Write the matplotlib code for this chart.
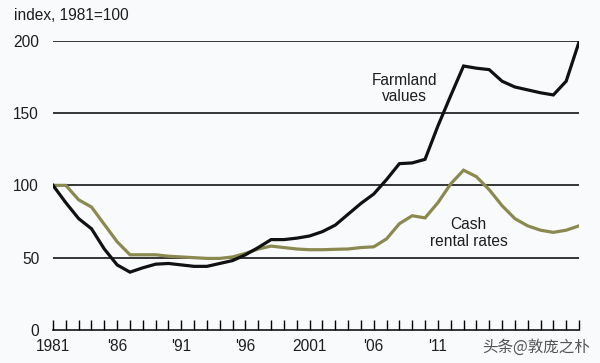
import matplotlib
matplotlib.use("Agg")
import matplotlib.pyplot as plt
import numpy as np

years = list(range(1981, 2023))
farmland = [100, 88, 77, 70, 56, 45, 40, 43, 45.5, 46,
            45, 44, 44, 46, 48, 52, 57, 62.5, 62.5, 63.5,
            65, 68, 72.5, 80, 87.5, 94, 104, 115, 115.5, 118,
            141, 162, 182.5, 181, 180, 172, 168, 166, 164, 162.5,
            172, 199]
cash = [100, 100, 90, 85, 73, 61, 52, 52, 52, 51,
        50.5, 50, 49.5, 49.5, 50.5, 53, 56, 58, 57, 56,
        55.5, 55.5, 55.8, 56, 57, 57.5, 63, 73.5, 79, 77.5,
        88, 101, 110.5, 106, 97, 86, 77, 72, 69, 67.5,
        69, 72]
label_years = [1981, 1986, 1991, 1996, 2001, 2006, 2011]
label_texts = ["1981", "'86", "'91", "'96", "2001", "'06", "'11"]
y_ticks = [0, 50, 100, 150, 200]

plt.rcParams['font.family'] = ['Liberation Sans', 'DejaVu Sans']
FS = 11.2
TC = "#1e1e1e"

bg = "#f9fafc"
fig = plt.figure(figsize=(6.0, 3.63), dpi=100, facecolor=bg)
ax = fig.add_axes([53/600, 33/363, (579-53)/600, (330-40.7)/363], facecolor=bg)

for v in [50, 100, 150, 200]:
    ax.axhline(v, color="black", lw=1.1, zorder=1)

ax.plot(years, cash, color="#8a8a50", lw=2.3, solid_joinstyle="miter", zorder=3)
ax.plot(years, farmland, color="#111111", lw=2.3, solid_joinstyle="miter", zorder=4)

ax.set_xlim(1981, 2022)
ax.set_ylim(0, 200)
for s in ["top", "right", "left"]:
    ax.spines[s].set_visible(False)
ax.spines["bottom"].set_linewidth(1.1)
ax.spines["bottom"].set_color("black")

ax.set_xticks(years)
ax.set_xticklabels([])
ax.tick_params(axis="x", direction="in", length=7, width=1.0, color="black")
for yr, t in zip(label_years, label_texts):
    ax.text(yr, -6.5, t, ha="center", va="top", fontsize=FS, color=TC)

ax.set_yticks(y_ticks)
ax.set_yticklabels([str(v) for v in y_ticks], fontsize=FS, color=TC)
ax.tick_params(axis="y", length=0, pad=10)

fig.text(14/600, 1 - 16/363, "index, 1981=100", ha="left", va="center",
         fontsize=FS, color=TC)

ax.text(2008.4, 167, "Farmland\nvalues", ha="center", va="center",
        fontsize=FS, color=TC, linespacing=1.15)
ax.text(2013.4, 67, "Cash\nrental rates", ha="center", va="center",
        fontsize=FS, color=TC, linespacing=1.15)

fig.text(536/600, 1 - 347/363, "头条@敦庞之朴", ha="center", va="center",
         fontsize=FS, color="#555555",
         family=["Noto Sans CJK SC", "DejaVu Sans"])

fig.savefig("out.png", dpi=100, facecolor=bg)
